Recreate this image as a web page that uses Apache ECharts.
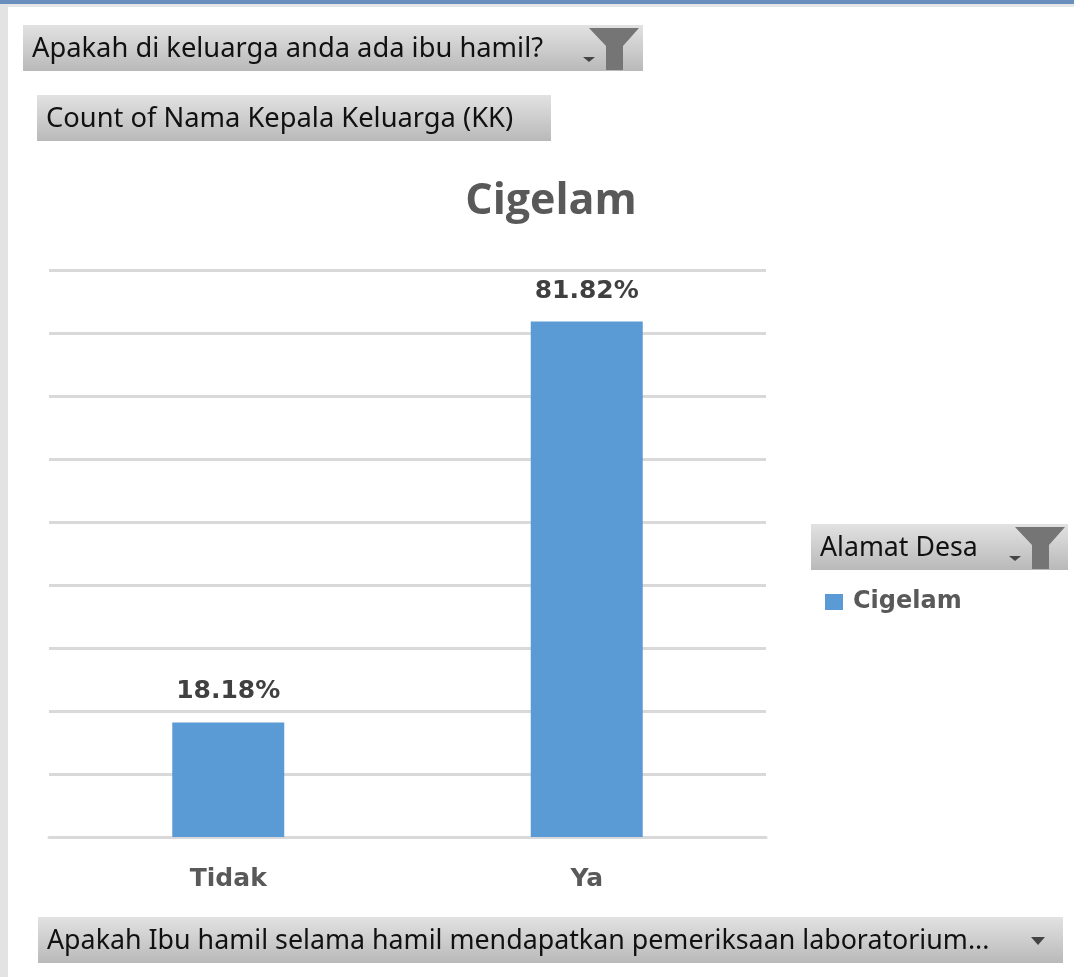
<!DOCTYPE html>
<html><head><meta charset="utf-8">
<style>html,body{margin:0;padding:0;background:#fff}#c{width:1074px;height:977px}</style>
<script src="https://cdn.jsdelivr.net/npm/echarts@6/dist/echarts.min.js"></script>
</head><body><div id="c"></div>
<script>
const categories = ['Tidak', 'Ya'];
const values = [18.18, 81.82];
const seriesName = 'Cigelam';
const chartTitle = 'Cigelam';
const filterLabel = 'Apakah di keluarga anda ada ibu hamil?';
const valueLabel = 'Count of Nama Kepala Keluarga (KK)';
const legendLabel = 'Alamat Desa';
const axisLabel = 'Apakah Ibu hamil selama hamil mendapatkan pemeriksaan laboratorium...';

const btnFill = {type:'linear',x:0,y:0,x2:0,y2:1,colorStops:[{offset:0,color:'#e2e2e2'},{offset:1,color:'#b9b9b9'}]};
function button(x,y,w,h,text,size){
  return [
    {type:'rect',shape:{x,y,width:w,height:h},style:{fill:btnFill},silent:true},
    {type:'text',x:x+9,y:y+h/2+1,style:{text,font:size+'px "Noto Sans", sans-serif',fill:'#111',verticalAlign:'middle',align:'left'},silent:true}
  ];
}
function funnel(x,y){
  return [
    {type:'polygon',shape:{points:[[x,y],[x+50,y],[x+34,y+18],[x+34,y+42],[x+17,y+42],[x+17,y+18]]},style:{fill:'#757575'},silent:true},
    {type:'polygon',shape:{points:[[x-6,y+29],[x+6,y+29],[x,y+34]]},style:{fill:'#444'},silent:true}
  ];
}
const chart = echarts.init(document.getElementById('c'));
chart.setOption({
  animation:false,
  backgroundColor:'#fff',
  title:{text:chartTitle,left:546,top:175,textAlign:'center',
    textStyle:{fontFamily:'"Open Sans"',fontWeight:'bold',fontSize:43,color:'#595959'}},
  legend:{show:true,left:820,top:585,itemWidth:18,itemHeight:16,itemGap:0,
    textStyle:{fontFamily:'"DejaVu Sans"',fontWeight:'bold',fontSize:24,color:'#595959',padding:[2,0,0,5]},
    data:[{name:seriesName,icon:'rect'}]},
  grid:{left:49,right:308,top:270,bottom:140,containLabel:false},
  xAxis:{type:'category',data:categories,
    axisLine:{show:true,lineStyle:{color:'#d9d9d9',width:3}},axisTick:{show:false},
    axisLabel:{margin:30,fontFamily:'"DejaVu Sans"',fontWeight:'bold',fontSize:25,color:'#595959'}},
  yAxis:{type:'value',min:0,max:90,interval:10,
    axisLine:{show:false},axisTick:{show:false},axisLabel:{show:false},
    splitLine:{show:true,lineStyle:{color:'#d9d9d9',width:3}}},
  series:[{name:seriesName,type:'bar',data:values,barWidth:112,
    itemStyle:{color:'#5b9bd5'},
    label:{show:true,position:'top',distance:18,formatter:p=>p.value.toFixed(2)+'%',
      fontFamily:'"DejaVu Sans"',fontWeight:'bold',fontSize:25,color:'#404040'}}],
  graphic:[
    {type:'rect',shape:{x:0,y:0,width:1074,height:4},style:{fill:'#6a8fbf'},silent:true},
    {type:'rect',shape:{x:0,y:4,width:1074,height:3},style:{fill:'#e6e6e6'},silent:true},
    {type:'rect',shape:{x:0,y:4,width:8,height:973},style:{fill:'#e3e3e3'},silent:true},
    ...button(23,25,620,46,filterLabel,27.3),
    ...funnel(589,28),
    ...button(37,95,514,46,valueLabel,27.3),
    ...button(811,524,257,46,legendLabel,26.7),
    ...funnel(1015,527),
    ...button(38,917,1025,46,axisLabel,26.8),
    {type:'polygon',shape:{points:[[1031,937],[1045,937],[1038,945]]},style:{fill:'#444'},silent:true}
  ]
});
</script></body></html>
